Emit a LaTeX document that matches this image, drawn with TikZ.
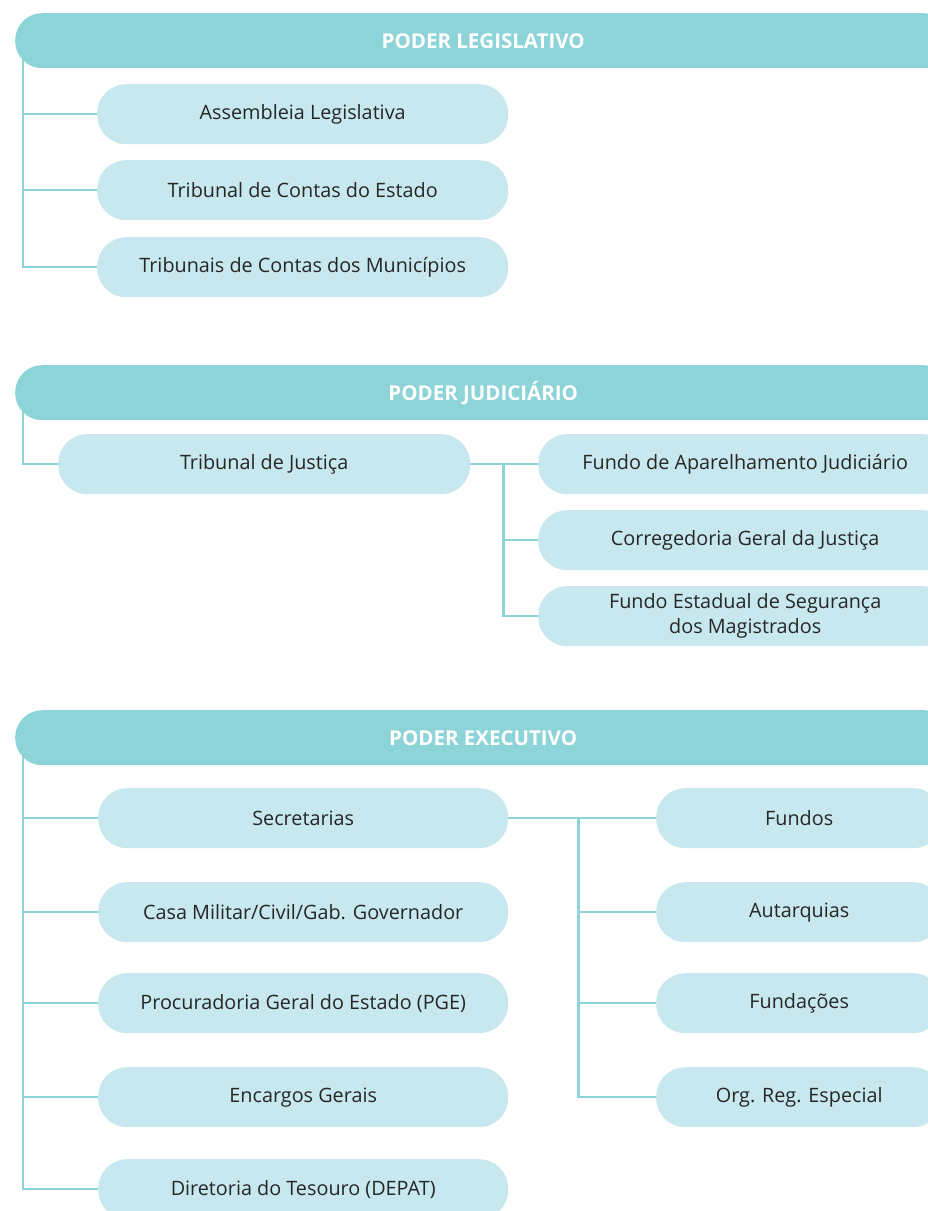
\documentclass[tikz,border=0pt]{standalone}
\usepackage{fontspec}
\setmainfont{Open Sans}
\usetikzlibrary{positioning,backgrounds}
\definecolor{barcol}{HTML}{8DD4D8}
\definecolor{boxcol}{HTML}{C8E8EF}
\definecolor{inkcol}{HTML}{262626}

\tikzset{
  bar/.style={fill=barcol, rounded corners=27pt, minimum height=55pt, minimum width=936pt,
    inner sep=0pt, text=white, font=\fontsize{20.5}{24}\selectfont\bfseries},
  unit/.style={fill=boxcol, rounded corners=29pt, minimum height=60pt, inner sep=0pt,
    text=inkcol, align=center, font=\fontsize{19.8}{25}\selectfont},
  link/.style={draw=barcol, line width=2.4pt}
}

\begin{document}
\begin{tikzpicture}[x=1pt,y=-1pt]
\useasboundingbox (0,0) rectangle (928,1211);
\clip (0,0) rectangle (928,1211);

% legislativo
\node[bar,anchor=north west] (leg) at (15,13) {PODER LEGISLATIVO};
\node[unit,anchor=north west,minimum width=411pt] (ale) at (97,84) {Assembleia Legislativa};
\node[unit,anchor=north west,minimum width=411pt] (tce) at (97,160) {Tribunal de Contas do Estado};
\node[unit,anchor=north west,minimum width=411pt] (tcm) at (97,237) {Tribunais de Contas dos Municípios};

% judiciario
\node[bar,anchor=north west] (jud) at (15,365) {PODER JUDICIÁRIO};
\node[unit,anchor=north west,minimum width=412pt] (tj) at (58,434) {Tribunal de Justiça};
\node[unit,anchor=north west,minimum width=414pt] (faj) at (538,434) {Fundo de Aparelhamento Judiciário};
\node[unit,anchor=north west,minimum width=414pt] (cgj) at (538,510) {Corregedoria Geral da Justiça};
\node[unit,anchor=north west,minimum width=414pt] (fesm) at (538,586) {Fundo Estadual de Segurança\\dos Magistrados};

% executivo
\node[bar,anchor=north west] (exe) at (15,710) {PODER EXECUTIVO};
\node[unit,anchor=north west,minimum width=410pt] (sec) at (98,788) {Secretarias};
\node[unit,anchor=north west,minimum width=410pt] (casa) at (98,882) {Casa Militar/Civil/Gab. Governador};
\node[unit,anchor=north west,minimum width=410pt] (pge) at (98,973) {Procuradoria Geral do Estado (PGE)};
\node[unit,anchor=north west,minimum width=410pt] (eng) at (98,1067) {Encargos Gerais};
\node[unit,anchor=north west,minimum width=410pt] (depat) at (98,1159) {Diretoria do Tesouro (DEPAT)};
\node[unit,anchor=north west,minimum width=286pt] (fun) at (656,788) {Fundos};
\node[unit,anchor=north west,minimum width=286pt] (aut) at (656,882) {Autarquias};
\node[unit,anchor=north west,minimum width=286pt] (fdc) at (656,973) {Fundações};
\node[unit,anchor=north west,minimum width=286pt] (ore) at (656,1067) {Org. Reg. Especial};

\begin{scope}[on background layer]
% rails
\coordinate (legrail) at ([xshift=8pt,yshift=10pt]leg.south west);
\draw[link] (legrail) |- (tcm.west);
\foreach \n in {ale,tce}
    {\draw[link] (legrail |- \n.west) -- (\n.west);}

\coordinate (judrail) at ([xshift=8pt,yshift=10pt]jud.south west);
\draw[link] (judrail) |- (tj.west);
\coordinate (jfork) at ([xshift=33pt]tj.east);
\draw[link] (tj.east) -- (faj.west);
\draw[link] (jfork) |- (fesm.west);
\draw[link] (jfork |- cgj.west) -- (cgj.west);

\coordinate (exerail) at ([xshift=8pt,yshift=10pt]exe.south west);
\draw[link] (exerail) |- (depat.west);
\foreach \n in {sec,casa,pge,eng}
    {\draw[link] (exerail |- \n.west) -- (\n.west);}
\coordinate (efork) at ([xshift=70pt]sec.east);
\draw[link] (sec.east) -- (fun.west);
\draw[link] (efork) |- (ore.west);
\foreach \n in {aut,fdc}
    {\draw[link] (efork |- \n.west) -- (\n.west);}
\end{scope}

\end{tikzpicture}
\end{document}
